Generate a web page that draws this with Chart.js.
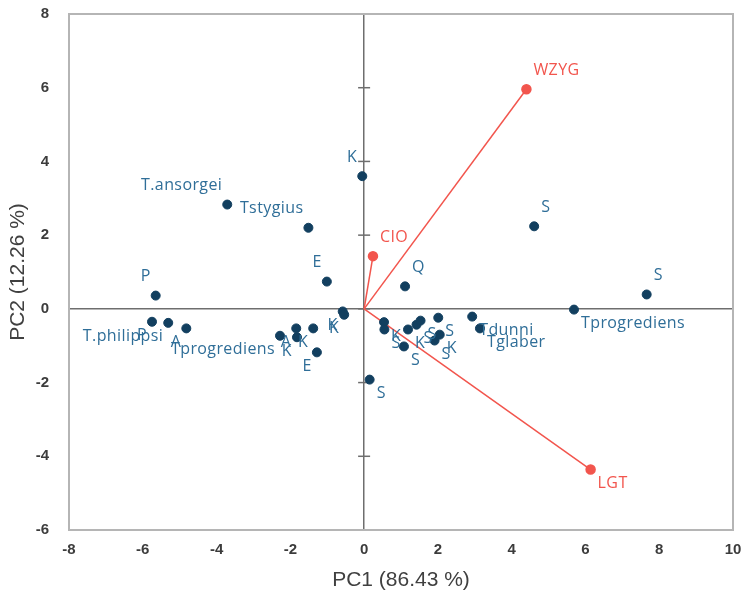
<!DOCTYPE html>
<html>
<head>
<meta charset="utf-8">
<script src="https://cdn.jsdelivr.net/npm/chart.js@4/dist/chart.umd.min.js"></script>
<style>
html,body{margin:0;padding:0;background:#fff;}
#wrap{width:743px;height:599px;}
</style>
</head>
<body>
<div id="wrap"><canvas id="c" width="743" height="599"></canvas></div>
<script>
// ---- data ----
const scoreLabels = ['K','T.ansorgei','Tstygius','E','P','P','T.philippsi','A','Tprogrediens','A','K','K','E','K','K','Q','S','S','Tprogrediens','S','K','S','K','S','S','S','S','K','S','Tdunni','Tglaber'];
const pc1Scores   = [-0.05,-3.71,-1.51,-1.01,-5.65,-5.75,-5.31,-4.82,-2.28,-1.84,-1.38,-1.82,-1.28,-0.58,-0.54,1.11,4.61,7.66,5.69,0.15,0.54,0.55,1.19,1.42,1.53,2.01,1.91,2.05,1.08,2.93,3.14];
const pc2Scores   = [3.60,2.83,2.20,0.74,0.36,-0.35,-0.38,-0.53,-0.73,-0.53,-0.53,-0.77,-1.18,-0.07,-0.16,0.61,2.24,0.39,-0.02,-1.92,-0.36,-0.56,-0.56,-0.43,-0.32,-0.24,-0.86,-0.70,-1.02,-0.21,-0.53];
const loadingLabels = ['WZYG','CIO','LGT'];
const loadingPC1    = [4.40,0.24,6.14];
const loadingPC2    = [5.96,1.43,-4.36];
const xTickValues = [-8,-6,-4,-2,0,2,4,6,8,10];
const yTickValues = [-6,-4,-2,0,2,4,6,8];
const xTitle = 'PC1 (86.43 %)';
const yTitle = 'PC2 (12.26 %)';

// ---- styles ----
const POINT_COLOR = '#123f5f';
const LABEL_COLOR = '#2f6e98';
const RED = '#f2554d';
const LABEL_FONT = '16px "Open Sans"';
const AXIS_FONT = '"Liberation Sans", Arial, sans-serif';

const scorePoints = pc1Scores.map((x,i)=>({x:x,y:pc2Scores[i]}));
const datasets = [{
  label:'scores', data:scorePoints, pointLabels:scoreLabels,
  backgroundColor:POINT_COLOR, borderColor:POINT_COLOR,
  pointRadius:4.5, pointHoverRadius:4.5, showLine:false, labelColor:LABEL_COLOR
}];
loadingLabels.forEach((lab,i)=>{
  datasets.push({
    label:lab, data:[{x:0,y:0},{x:loadingPC1[i],y:loadingPC2[i]}],
    pointLabels:[null,lab], showLine:true, borderColor:RED, borderWidth:1.5,
    backgroundColor:RED, pointRadius:[0,4.5], pointHoverRadius:[0,4.5], labelColor:RED
  });
});

const framePlugin = {
  id:'frame',
  beforeDatasetsDraw(chart){
    const {ctx, scales} = chart;
    const x0 = scales.x.getPixelForValue(0);
    ctx.save();
    ctx.strokeStyle = '#6e6e6e';
    ctx.lineWidth = 1.5;
    yTickValues.forEach(v=>{
      const y = scales.y.getPixelForValue(v);
      ctx.beginPath(); ctx.moveTo(x0-6,y); ctx.lineTo(x0+6,y); ctx.stroke();
    });
    ctx.restore();
  },
  afterDraw(chart){
    const {ctx, chartArea:a} = chart;
    ctx.save();
    ctx.strokeStyle = '#b5b5b5';
    ctx.lineWidth = 2;
    ctx.strokeRect(a.left, a.top, a.right-a.left, a.bottom-a.top);
    ctx.restore();
  }
};

const labelPlugin = {
  id:'pointLabels',
  afterDatasetsDraw(chart){
    const ctx = chart.ctx;
    ctx.save();
    ctx.font = LABEL_FONT;
    try { ctx.letterSpacing = '0.4px'; } catch(e) {}
    ctx.textBaseline = 'middle';
    chart.data.datasets.forEach((ds,di)=>{
      const meta = chart.getDatasetMeta(di);
      meta.data.forEach((el,j)=>{
        const txt = ds.pointLabels[j];
        if(!txt) return;
        const v = ds.data[j];
        ctx.fillStyle = ds.labelColor;
        const right = v.x >= 0;
        ctx.textAlign = right ? 'left' : 'right';
        const tx = el.x + (right ? 7 : -5);
        const ty = el.y + (v.y > 0 ? -19 : 14);
        ctx.fillText(txt, tx, ty);
      });
    });
    ctx.restore();
  }
};

function noPad(s){ s.paddingTop = 0; s.paddingBottom = 0; s.paddingLeft = 0; s.paddingRight = 0; }

new Chart(document.getElementById('c'), {
  type:'scatter',
  data:{datasets:datasets},
  options:{
    responsive:false, animation:false, devicePixelRatio:1,
    layout:{padding:{top:14,right:10,left:0,bottom:0}},
    plugins:{legend:{display:false}, tooltip:{enabled:false}},
    scales:{
      x:{
        type:'linear', min:-8, max:10,
        afterBuildTicks(s){ s.ticks = xTickValues.map(v=>({value:v})); },
        afterFit(s){ s.height = 69; noPad(s); },
        grid:{drawTicks:false, lineWidth:1.5, color:c=>c.tick && c.tick.value===0 ? '#6e6e6e' : 'rgba(0,0,0,0)'},
        border:{display:false},
        ticks:{padding:11, color:'#3c3c3c', font:{family:AXIS_FONT, size:15, weight:'bold'}, maxRotation:0, autoSkip:false},
        title:{display:true, text:xTitle, color:'#404040', font:{family:AXIS_FONT, size:21}, padding:{top:0,bottom:6}}
      },
      y:{
        type:'linear', min:-6, max:8,
        afterBuildTicks(s){ s.ticks = yTickValues.map(v=>({value:v})); },
        afterFit(s){ s.width = 69; noPad(s); },
        grid:{drawTicks:false, lineWidth:1.5, color:c=>c.tick && c.tick.value===0 ? '#6e6e6e' : 'rgba(0,0,0,0)'},
        border:{display:false},
        ticks:{padding:20, color:'#3c3c3c', font:{family:AXIS_FONT, size:15, weight:'bold'}, autoSkip:false},
        title:{display:true, text:yTitle, color:'#404040', font:{family:AXIS_FONT, size:21}, padding:{top:6,bottom:0}}
      }
    }
  },
  plugins:[framePlugin,labelPlugin]
});
</script>
</body>
</html>
